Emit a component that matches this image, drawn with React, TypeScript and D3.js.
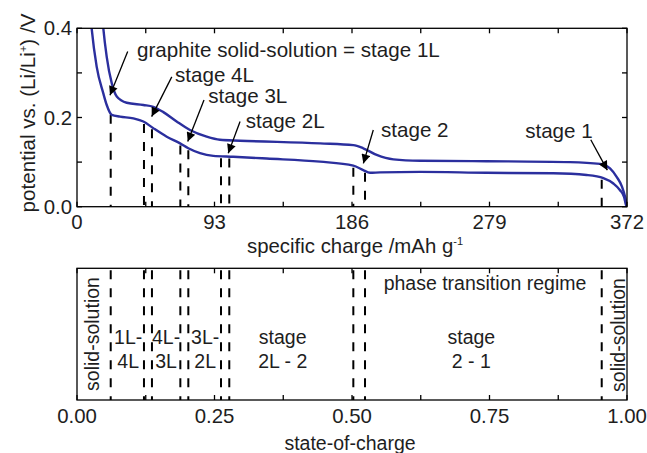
import React from "react";
import * as d3 from "d3";

// ---------- data ----------
const lowerX = [8.5, 9.9, 13.3, 17.8, 20.1, 23.5, 29.1, 38.1, 44.9, 51.6, 60.7, 69.7, 75.3, 83.2, 92.2, 105.7, 128.3, 164.4, 186.9, 193.6, 198.2, 205, 232, 277, 322, 344.7, 356, 362.8, 367.3, 370, 371.3, 372];
const lowerV = [0.45, 0.4, 0.314, 0.254, 0.228, 0.206, 0.202, 0.198, 0.191, 0.176, 0.157, 0.142, 0.131, 0.12, 0.114, 0.112, 0.108, 0.101, 0.092, 0.082, 0.076, 0.077, 0.078, 0.076, 0.075, 0.071, 0.064, 0.052, 0.037, 0.022, 0.004, 0];

const upperX = [16.5, 17.8, 20.1, 23.5, 26.9, 33.6, 44.9, 51.6, 58.4, 67.4, 76.4, 87.7, 96.7, 110.3, 164.4, 186.9, 193.6, 202.7, 214, 232, 277, 333.5, 353.8, 360.5, 365, 368.6, 370.7, 371.8, 372];
const upperV = [0.45, 0.4, 0.336, 0.277, 0.247, 0.233, 0.228, 0.224, 0.212, 0.191, 0.172, 0.157, 0.15, 0.148, 0.142, 0.138, 0.131, 0.116, 0.106, 0.103, 0.102, 0.1, 0.096, 0.086, 0.067, 0.045, 0.022, 0.004, 0];

const transitions = [22.8, 45.3, 50.7, 69.9, 75.3, 97.4, 103.0, 186.9, 194.8, 354.9];
const capacity = 372;

const xMajorTicks = [0, 93, 186, 279, 372];
const xTickLabels = ["0", "93", "186", "279", "372"];
const xMinorTicks = [46.5, 139.5, 232.5, 325.5];
const yMajorTicks = [0, 0.2, 0.4];
const yTickLabels = ["0.0", "0.2", "0.4"];
const yMinorTicks = [0.1, 0.3];
const socMajorTicks = [0, 0.25, 0.5, 0.75, 1];
const socTickLabels = ["0.00", "0.25", "0.50", "0.75", "1.00"];
const socMinorTicks = [0.125, 0.375, 0.625, 0.875];

const annLabels = ["graphite solid-solution = stage 1L", "stage 4L", "stage 3L", "stage 2L", "stage 2", "stage 1"];
const annTipX = [22.3, 50.5, 74.9, 102.3, 193.7, 358.7];
const annTipV = [0.25, 0.202, 0.146, 0.12, 0.097, 0.082];
const annTailX = [34.3, 64.1, 85.9, 110.3, 200.4, 347.5];
const annTailV = [0.348, 0.291, 0.239, 0.191, 0.172, 0.15];
const annTextX = [40.6, 66.3, 88.8, 114.1, 205.6, 348.8];
const annTextV = [0.336, 0.28, 0.232, 0.176, 0.157, 0.153];
const annAnchor = ["start", "start", "start", "start", "start", "end"];

const regionLines1 = ["1L-", "4L-", "3L-", "stage", "stage"];
const regionLines2 = ["4L", "3L", "2L", "2L - 2", "2 - 1"];
const regionCenters = [0.093, 0.162, 0.233, 0.374, 0.717];

// ---------- layout ----------
const W = 647, H = 453;
const L = 77, R = 627;
const T1 = 28.3, B1 = 206.7;
const T2 = 268.3, B2 = 400;
const FONT = "'Liberation Sans', Arial, Helvetica, sans-serif";
const FS = 19.5;
const FS_ANN = 20.6;
const FS_LAB = 20.4;
const BLUE = "#2b2f9e";
const INK = "#1e1e1e";

export default function App() {
  const x = d3.scaleLinear().domain([0, 372]).range([L, R]);
  const y = d3.scaleLinear().domain([0, 0.4]).range([B1, T1]);
  const s = d3.scaleLinear().domain([0, 1]).range([L, R]);

  const line = d3
    .line<[number, number]>()
    .x((d) => x(d[0]))
    .y((d) => y(d[1]))
    .curve(d3.curveMonotoneX);

  const lower: [number, number][] = lowerX.map((v, i) => [v, lowerV[i]]);
  const upper: [number, number][] = upperX.map((v, i) => [v, upperV[i]]);
  const lowerAt = (xv: number) => {
    const i = d3.bisectLeft(lowerX, xv);
    const x0 = lowerX[i - 1], x1 = lowerX[i];
    const t = (xv - x0) / (x1 - x0);
    return lowerV[i - 1] + t * (lowerV[i] - lowerV[i - 1]);
  };

  const tick = 5;
  const dash = "9,9";

  return (
    <svg
      width={W}
      height={H}
      style={{ position: "absolute", left: 0, top: 0, background: "#fff" }}
      fontFamily={FONT}
    >
      <defs>
        <clipPath id="clip1">
          <rect x={L} y={T1} width={R - L} height={B1 - T1} />
        </clipPath>
        <marker id="arr" viewBox="0 0 10 10" refX="10" refY="5" markerWidth="12" markerHeight="9" markerUnits="userSpaceOnUse" orient="auto">
          <path d="M0,0 L10,5 L0,10 z" fill="#000" />
        </marker>
      </defs>

      {/* ---------- top panel ---------- */}
      {transitions.map((t, i) => (
        <line key={"td" + i} x1={x(t)} x2={x(t)} y1={y(lowerAt(t)) + 2} y2={B1} stroke="#000" strokeWidth={2} strokeDasharray={dash} />
      ))}
      <g clipPath="url(#clip1)">
        <path d={line(lower) || ""} fill="none" stroke={BLUE} strokeWidth={2.4} />
        <path d={line(upper) || ""} fill="none" stroke={BLUE} strokeWidth={2.4} />
      </g>
      {annLabels.map((lab, i) => (
        <g key={"an" + i}>
          <line x1={x(annTailX[i])} y1={y(annTailV[i])} x2={x(annTipX[i])} y2={y(annTipV[i])} stroke="#000" strokeWidth={1.3} markerEnd="url(#arr)" />
          <text x={x(annTextX[i])} y={y(annTextV[i])} fontSize={FS_ANN} textAnchor={annAnchor[i]} fill={INK}>{lab}</text>
        </g>
      ))}
      <rect x={L} y={T1} width={R - L} height={B1 - T1} fill="none" stroke="#000" strokeWidth={1.3} />
      {[...xMajorTicks, ...xMinorTicks].map((t, i) => (
        <g key={"xt" + i}>
          <line x1={x(t)} x2={x(t)} y1={B1} y2={B1 - tick} stroke="#000" strokeWidth={1.3} />
          <line x1={x(t)} x2={x(t)} y1={T1} y2={T1 + tick} stroke="#000" strokeWidth={1.3} />
        </g>
      ))}
      {[...yMajorTicks, ...yMinorTicks].map((t, i) => (
        <g key={"yt" + i}>
          <line x1={L} x2={L + tick} y1={y(t)} y2={y(t)} stroke="#000" strokeWidth={1.3} />
          <line x1={R} x2={R - tick} y1={y(t)} y2={y(t)} stroke="#000" strokeWidth={1.3} />
        </g>
      ))}
      {xMajorTicks.map((t, i) => (
        <text key={"xl" + i} x={x(t)} y={229} fontSize={FS_LAB} textAnchor="middle" fill={INK}>{xTickLabels[i]}</text>
      ))}
      {yMajorTicks.map((t, i) => (
        <text key={"yl" + i} x={72} y={y(t) + 7} fontSize={FS_LAB} textAnchor="end" fill={INK}>{yTickLabels[i]}</text>
      ))}
      <text x={355} y={253} fontSize={FS_LAB} textAnchor="middle" fill={INK}>
        specific charge /mAh g<tspan dy={-8} fontSize={11}>-1</tspan>
      </text>
      <text transform={`translate(35,113) rotate(-90)`} fontSize={FS_ANN} textAnchor="middle" fill={INK}>
        potential vs. (Li/Li<tspan dy={-8} fontSize={11}>+</tspan><tspan dy={8}>) /V</tspan>
      </text>

      {/* ---------- bottom panel ---------- */}
      {transitions.map((t, i) => (
        <line key={"bd" + i} x1={s(t / capacity)} x2={s(t / capacity)} y1={T2 + 2} y2={B2} stroke="#000" strokeWidth={2} strokeDasharray={dash} />
      ))}
      <rect x={L} y={T2} width={R - L} height={B2 - T2} fill="none" stroke="#000" strokeWidth={1.3} />
      {[...socMajorTicks, ...socMinorTicks].map((t, i) => (
        <g key={"st" + i}>
          <line x1={s(t)} x2={s(t)} y1={B2} y2={B2 - tick} stroke="#000" strokeWidth={1.3} />
          <line x1={s(t)} x2={s(t)} y1={T2} y2={T2 + tick} stroke="#000" strokeWidth={1.3} />
        </g>
      ))}
      {socMajorTicks.map((t, i) => (
        <text key={"sl" + i} x={s(t)} y={423} fontSize={FS_LAB} textAnchor="middle" fill={INK}>{socTickLabels[i]}</text>
      ))}
      <text x={350} y={450} fontSize={FS} textAnchor="middle" fill={INK}>state-of-charge</text>

      <text transform={`translate(99,334) rotate(-90)`} fontSize={FS} textAnchor="middle" fill={INK}>solid-solution</text>
      <text transform={`translate(625,335) rotate(-90)`} fontSize={FS} textAnchor="middle" fill={INK}>solid-solution</text>
      <text x={485} y={290} fontSize={FS} textAnchor="middle" fill={INK}>phase transition regime</text>
      {regionCenters.map((c, i) => (
        <g key={"rg" + i}>
          <text x={s(c)} y={344} fontSize={FS} textAnchor="middle" fill={INK}>{regionLines1[i]}</text>
          <text x={s(c)} y={368} fontSize={FS} textAnchor="middle" fill={INK}>{regionLines2[i]}</text>
        </g>
      ))}
    </svg>
  );
}
